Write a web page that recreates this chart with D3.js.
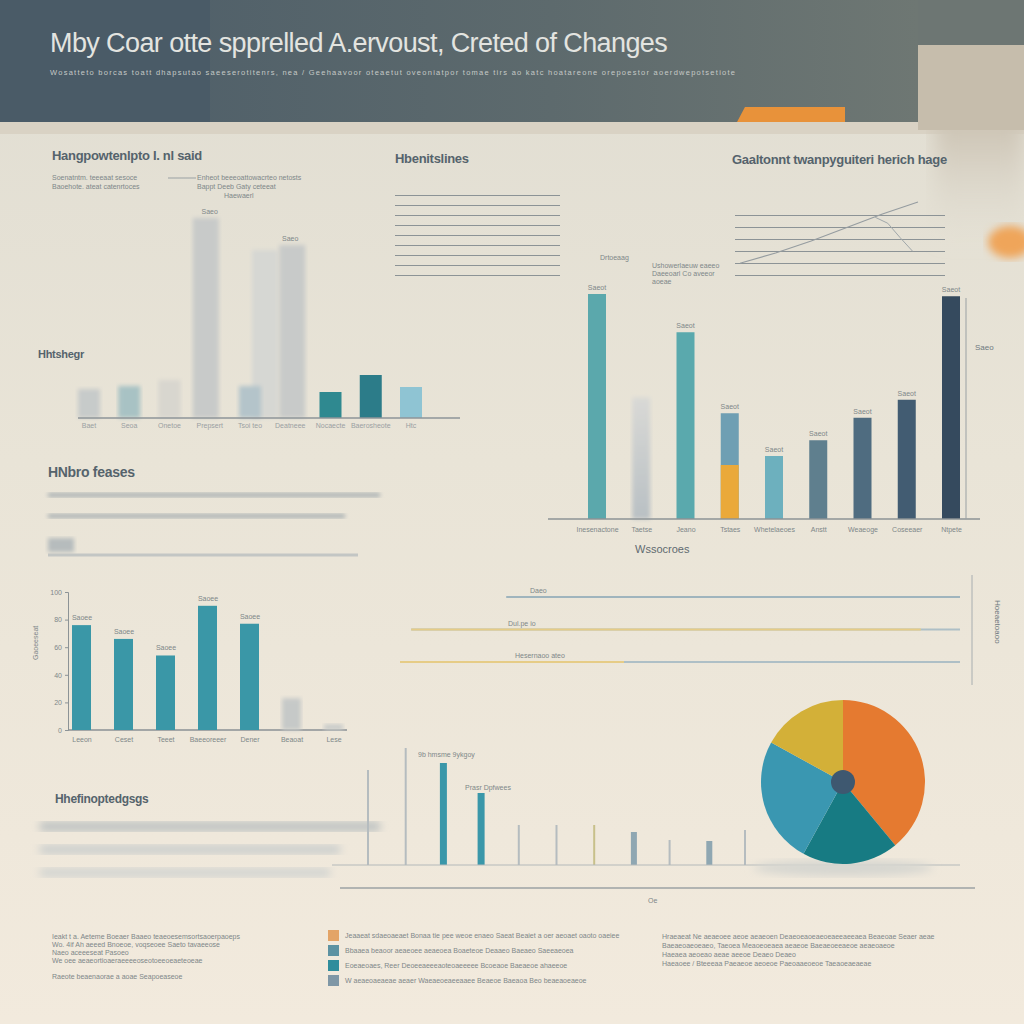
<!DOCTYPE html>
<head>
<meta charset="utf-8">
<title>Creted of Changes</title>
<script src="https://d3js.org/d3.v7.min.js"></script>
<style>
body { margin: 0; background: #ece6d8; }
text { font-family: "Liberation Sans", Arial, sans-serif; }
.tiny { font-size: 7px; fill: #7e8789; }
.small { font-size: 8px; fill: #6f7a80; }
.head { font-size: 13px; fill: #55636c; font-weight: bold; letter-spacing: -0.3px; }
.axis path, .axis line { stroke: #8c9396; }
.axis text { font-size: 7px; fill: #7e8789; }
</style>
</head>
<body>
<div id="container"></div>
<script>
//--------------------------- DATA ------------------------------//
const titleText = "Mby Coar otte spprelled A.ervoust, Creted of Changes";
const subText = "Wosatteto borcas toatt dhapsutao saeeserotitenrs, nea / Geehaavoor oteaetut oveoniatpor tomae tirs ao katc hoatareone orepoestor aoerdwepotsetiote";

// top-left bars
const topCats = ["Baet", "Seoa", "Onetoe", "Prepsert", "Tsoi teo", "Deatneee", "Nocaecte", "Baerosheote", "Htc"];
const topVals = [14.5, 16, 19, 100, 16, 86.5, 13, 21.5, 15.5];
const topGhost = [0, 0, 0, 0, 84, 0, 0, 0, 0];

// big bar chart on the right
const rightCats = ["Inesenactone", "Taetse", "Jeano", "Tstaes", "Whetelaeoes", "Anstt", "Weaeoge", "Coseeaer", "Ntpete"];
const rightVals = [100, 54, 83, 47, 28, 35, 45, 53, 99];
const rightLower = [0, 0, 0, 24, 0, 0, 0, 0, 0];

// lower-left bars
const lowCats = ["Leeon", "Ceset", "Teeet", "Baeeoreeer", "Dener", "Beaoat", "Lese"];
const lowVals = [76, 66, 54, 90, 77, 23, 4];
const lowTicks = [0, 20, 40, 60, 80, 100];

// thin bars, bottom middle
const thinCats = ["a", "b", "c", "d", "e", "f", "g", "h", "i", "j", "k"];
const thinVals = [95, 117, 102, 72, 40, 40, 40, 33, 25, 24, 35];

// pie
const pieCats = ["Oeaner", "Teael", "Baueo", "Ocser"];
const pieVals = [39, 19, 25, 17];

// horizontal range lines (start, end on 0-100)
const rangeStart = [19, 2, 0];
const rangeEnd = [100, 100, 100];
const rangeAccent = [[19, 100], [2, 93], [0, 40]];

// sketched line chart, top right
const sketchA = [8, 20, 34, 50, 66, 80];
const sketchB = [62, 55, 38, 22];

//--------------------------- STYLES ----------------------------//
const topColors = ["#c7cbca", "#a8c2c4", "#d8d6cf", "#c8cac9", "#b4c4ca", "#c8cac9", "#2f8990", "#2c7c89", "#8fc4d3"];
const rightColors = ["#5ba8ac", "#c3c7c9", "#5aa9ad", "#6f9fb3", "#6db0be", "#5f7f8e", "#4f6c80", "#425c72", "#354a5e"];
const pieColors = ["#e57a30", "#177b83", "#3a97b1", "#d3b038"];

//--------------------------- SVG -------------------------------//
const W = 1024, H = 1024;
const svg = d3.select("#container").append("svg")
    .attr("width", W).attr("height", H);

const defs = svg.append("defs");
defs.append("filter").attr("id", "blur2").append("feGaussianBlur").attr("stdDeviation", 2);
defs.append("filter").attr("id", "blur4").append("feGaussianBlur").attr("stdDeviation", 4);
defs.append("filter").attr("id", "blur10").append("feGaussianBlur").attr("stdDeviation", 10);

const bgGrad = defs.append("linearGradient").attr("id", "bg").attr("x1", 0).attr("y1", 0).attr("x2", 0).attr("y2", 1);
bgGrad.append("stop").attr("offset", "0%").attr("stop-color", "#e0ddd2");
bgGrad.append("stop").attr("offset", "45%").attr("stop-color", "#e9e4d7");
bgGrad.append("stop").attr("offset", "100%").attr("stop-color", "#f2eadd");

const headGrad = defs.append("linearGradient").attr("id", "head");
headGrad.append("stop").attr("offset", "0%").attr("stop-color", "#4b5c68");
headGrad.append("stop").attr("offset", "60%").attr("stop-color", "#5d6a6d");
headGrad.append("stop").attr("offset", "100%").attr("stop-color", "#6e7773");

const blockGrad = defs.append("linearGradient").attr("id", "block").attr("x1", 0).attr("y1", 0).attr("x2", 0).attr("y2", 1);
blockGrad.append("stop").attr("offset", "0%").attr("stop-color", "#c6bdac");
blockGrad.append("stop").attr("offset", "45%").attr("stop-color", "#cfc7b8");
blockGrad.append("stop").attr("offset", "100%").attr("stop-color", "#e0dcd1").attr("stop-opacity", 0);

const fadeGrad = defs.append("linearGradient").attr("id", "fadebar").attr("x1", 0).attr("y1", 0).attr("x2", 0).attr("y2", 1);
fadeGrad.append("stop").attr("offset", "0%").attr("stop-color", "#d9d9d6");
fadeGrad.append("stop").attr("offset", "100%").attr("stop-color", "#b9c0c4");

//--------------------------- BACKGROUND ------------------------//
svg.append("rect").attr("width", W).attr("height", H).attr("fill", "url(#bg)");
svg.append("rect").attr("x", 0).attr("y", 122).attr("width", W).attr("height", 12).attr("fill", "#d9d2c4");
svg.append("rect").attr("x", 935).attr("y", 45).attr("width", 89).attr("height", 200)
    .attr("fill", "url(#block)").attr("filter", "url(#blur10)");
svg.append("rect").attr("x", 0).attr("y", 0).attr("width", 918).attr("height", 122).attr("fill", "url(#head)");
svg.append("rect").attr("x", 0).attr("y", 0).attr("width", 210).attr("height", 122).attr("fill", "#4a5b67");
svg.append("rect").attr("x", 918).attr("y", 0).attr("width", 106).attr("height", 45).attr("fill", "#6d7673");
svg.append("rect").attr("x", 918).attr("y", 45).attr("width", 106).attr("height", 85).attr("fill", "#c6bdac");
svg.append("path").attr("d", "M745,107 L845,107 L845,122 L737,122 Z").attr("fill", "#e8923a");
svg.append("ellipse").attr("cx", 1010).attr("cy", 242).attr("rx", 22).attr("ry", 16)
    .attr("fill", "#efa55a").attr("filter", "url(#blur4)");

svg.append("text").attr("x", 50).attr("y", 52)
    .style("font-size", "27px").style("fill", "#e3e4e0").style("letter-spacing", "-0.6px")
    .text(titleText);
svg.append("text").attr("x", 50).attr("y", 75)
    .style("font-size", "7.5px").style("fill", "#c5c9c6")
    .attr("textLength", 685)
    .text(subText);

//--------------------------- TOP-LEFT BARS ---------------------//
const x1 = d3.scalePoint().domain(topCats).range([89, 411]);
const y1 = d3.scaleLinear().domain([0, 100]).range([418, 218]);

svg.append("text").attr("class", "head").attr("x", 52).attr("y", 160).text("Hangpowtenlpto I. nl said");
[["Soenatntm. teeeaat sesoce", 52, 180], ["Baoehote. ateat catenrtoces", 52, 189],
 ["Enheot beeeoattowacrteo netosts", 197, 180], ["Bappt  Deeb Gaty ceteeat", 197, 189], ["Haewaerl", 224, 198]]
 .forEach(t => svg.append("text").attr("class", "tiny").attr("x", t[1]).attr("y", t[2]).text(t[0]));
svg.append("line").attr("x1", 168).attr("x2", 196).attr("y1", 178).attr("y2", 178).attr("stroke", "#9aa1a3");
svg.append("text").attr("class", "head").attr("x", 38).attr("y", 358).style("font-size", "11px").text("Hhtshegr");

svg.append("g").selectAll("rect.ghost").data(topGhost).join("rect")
    .attr("x", (d, i) => x1(topCats[i]) + 2).attr("width", 26)
    .attr("y", d => y1(d)).attr("height", d => y1(0) - y1(d))
    .attr("fill", "#d6d7d3").attr("filter", "url(#blur2)");

svg.append("g").selectAll("rect").data(topVals).join("rect")
    .attr("x", (d, i) => x1(topCats[i]) - (i === 3 ? 17 : 11)).attr("width", (d, i) => i === 3 || i === 5 ? 26 : 22)
    .attr("y", d => y1(d)).attr("height", d => y1(0) - y1(d))
    .attr("fill", (d, i) => topColors[i])
    .attr("filter", (d, i) => i < 6 ? "url(#blur2)" : null);

svg.append("g").selectAll("text").data(topVals).join("text")
    .attr("class", "tiny").attr("text-anchor", "middle")
    .attr("x", (d, i) => x1(topCats[i])).attr("y", d => y1(d) - 4)
    .text(d => d > 30 ? "Saeo" : "");

svg.append("line").attr("x1", 78).attr("x2", 460).attr("y1", y1(0)).attr("y2", y1(0))
    .attr("stroke", "#8e9599").attr("stroke-width", 1.5);
svg.append("g").selectAll("text.lab").data(topCats).join("text")
    .attr("class", "tiny").attr("text-anchor", "middle").style("fill", "#9aa0a2")
    .attr("x", d => x1(d)).attr("y", 428).text(d => d);

//--------------------------- TOP-MIDDLE LINES ------------------//
svg.append("text").attr("class", "head").attr("x", 395).attr("y", 163).text("Hbenitslines");
const gy2 = d3.scaleLinear().domain([0, 8]).range([275, 195]);
svg.append("g").attr("class", "axis").attr("transform", "translate(395,0)")
    .call(d3.axisRight(gy2).ticks(8).tickSize(165).tickFormat(""))
    .call(g => g.select(".domain").remove())
    .call(g => g.selectAll("line").attr("stroke", "#c9cac6"));
svg.append("text").attr("class", "tiny").attr("x", 600).attr("y", 260).text("Drtoeaag");
svg.append("text").attr("class", "tiny").attr("x", 652).attr("y", 268).text("Ushowerlaeuw eaeeo");
svg.append("text").attr("class", "tiny").attr("x", 652).attr("y", 276).text("Daeeoarl Co aveeor");
svg.append("text").attr("class", "tiny").attr("x", 652).attr("y", 284).text("aoeae");

//--------------------------- TOP-RIGHT SKETCH ------------------//
svg.append("text").attr("class", "head").attr("x", 732).attr("y", 164).text("Gaaltonnt twanpyguiteri herich hage");
const sx = d3.scaleLinear().domain([0, 5]).range([740, 918]);
const sy = d3.scaleLinear().domain([0, 100]).range([270, 185]);
svg.append("g").attr("class", "axis").attr("transform", "translate(735,0)")
    .call(d3.axisRight(d3.scaleLinear().domain([0, 5]).range([275, 215])).ticks(5).tickSize(210).tickFormat(""))
    .call(g => g.select(".domain").remove())
    .call(g => g.selectAll("line").attr("stroke", "#c8c9c5"));
svg.append("path").datum(sketchA)
    .attr("d", d3.line().x((d, i) => sx(i)).y(d => sy(d)))
    .attr("fill", "none").attr("stroke", "#959ca0").attr("stroke-width", 1.1);
svg.append("path").datum(sketchB)
    .attr("d", d3.line().x((d, i) => sx(i * 0.35 + 3.8)).y(d => sy(d)))
    .attr("fill", "none").attr("stroke", "#a0a7aa").attr("stroke-width", 1);

//--------------------------- RIGHT BIG BARS --------------------//
const x2 = d3.scalePoint().domain(rightCats).range([597, 951]);
const y2 = d3.scaleLinear().domain([0, 100]).range([519, 294]);

svg.append("g").selectAll("rect").data(rightVals).join("rect")
    .attr("x", (d, i) => x2(rightCats[i]) - 9).attr("width", 18)
    .attr("y", d => y2(d)).attr("height", d => y2(0) - y2(d))
    .attr("fill", (d, i) => i === 1 ? "url(#fadebar)" : rightColors[i])
    .attr("filter", (d, i) => i === 1 ? "url(#blur2)" : null);
svg.append("g").selectAll("rect").data(rightLower).join("rect")
    .attr("x", (d, i) => x2(rightCats[i]) - 9).attr("width", 18)
    .attr("y", d => y2(d)).attr("height", d => y2(0) - y2(d))
    .attr("fill", "#eaa93a");
svg.append("g").selectAll("text").data(rightVals).join("text")
    .attr("class", "tiny").attr("text-anchor", "middle")
    .attr("x", (d, i) => x2(rightCats[i])).attr("y", d => y2(d) - 4)
    .text((d, i) => i === 1 ? "" : "Saeot");

svg.append("g").attr("class", "axis").attr("transform", "translate(0,519)")
    .call(d3.axisBottom(x2).tickSize(0).tickPadding(8))
    .call(g => g.select(".domain").attr("d", "M548,0H980").attr("stroke", "#6f777b").attr("stroke-width", 1.5));
svg.append("line").attr("x1", 966).attr("x2", 966).attr("y1", 298).attr("y2", 519).attr("stroke", "#9aa1a4");
svg.append("text").attr("class", "small").attr("x", 975).attr("y", 350).text("Saeo");
svg.append("text").attr("x", 635).attr("y", 553).style("font-size", "11px").style("fill", "#5f6a70").text("Wssocroes");

//--------------------------- MIDDLE-LEFT ----------------------//
svg.append("text").attr("class", "head").attr("x", 48).attr("y", 477).style("font-size", "14px").text("HNbro feases");
[[48, 493, 380], [48, 514, 345]].forEach(l =>
  svg.append("rect").attr("x", l[0]).attr("y", l[1]).attr("width", l[2] - l[0]).attr("height", 4)
    .attr("fill", "#a6adb0").attr("filter", "url(#blur2)"));
svg.append("rect").attr("x", 48).attr("y", 538).attr("width", 26).attr("height", 14)
    .attr("fill", "#b6bcbd").attr("filter", "url(#blur2)");
svg.append("line").attr("x1", 48).attr("x2", 358).attr("y1", 555).attr("y2", 555)
    .attr("stroke", "#c3c6c4").attr("stroke-width", 3);

//--------------------------- LOWER-LEFT BARS ------------------//
const x3 = d3.scalePoint().domain(lowCats).range([82, 334]);
const y3 = d3.scaleLinear().domain([0, 100]).range([730, 592]);

svg.append("g").attr("class", "axis").attr("transform", "translate(68,0)")
    .call(d3.axisLeft(y3).tickValues(lowTicks).tickSize(3))
    .call(g => g.select(".domain").attr("stroke", "#9aa1a4"));
svg.append("line").attr("x1", 68).attr("x2", 347).attr("y1", 730).attr("y2", 730)
    .attr("stroke", "#8a9195").attr("stroke-width", 1.5);
svg.append("g").selectAll("rect").data(lowVals).join("rect")
    .attr("x", (d, i) => x3(lowCats[i]) - 10).attr("width", 19)
    .attr("y", d => y3(d)).attr("height", d => y3(0) - y3(d))
    .attr("fill", (d, i) => i < 5 ? "#3a97a7" : "#c6c9c8")
    .attr("filter", (d, i) => i < 5 ? null : "url(#blur2)");
svg.append("g").selectAll("text").data(lowVals).join("text")
    .attr("class", "tiny").attr("text-anchor", "middle")
    .attr("x", (d, i) => x3(lowCats[i])).attr("y", d => y3(d) - 5)
    .text(d => d > 50 ? "Saoee" : "");
svg.append("g").selectAll("text.lab").data(lowCats).join("text")
    .attr("class", "tiny").attr("text-anchor", "middle")
    .attr("x", d => x3(d)).attr("y", 742).text(d => d);
svg.append("text").attr("class", "tiny")
    .attr("transform", "translate(38,660) rotate(-90)").text("Gaoeeseat");

//--------------------------- RANGE LINES ----------------------//
const xr = d3.scaleLinear().domain([0, 100]).range([400, 960]);
const rowY = d3.scalePoint().domain([0, 1, 2]).range([597, 662]);
svg.append("g").selectAll("line").data(rangeStart).join("line")
    .attr("x1", d => xr(d)).attr("x2", (d, i) => xr(rangeEnd[i]))
    .attr("y1", (d, i) => rowY(i)).attr("y2", (d, i) => rowY(i))
    .attr("stroke", "#aebfc6").attr("stroke-width", 2);
svg.append("g").selectAll("line").data(rangeAccent).join("line")
    .attr("x1", d => xr(d[0])).attr("x2", d => xr(d[1]))
    .attr("y1", (d, i) => rowY(i)).attr("y2", (d, i) => rowY(i))
    .attr("stroke", (d, i) => i === 0 ? "#9fb4bd" : "#e6cc86").attr("stroke-width", 2);
["Daeo", "Dul.pe io", "Hesernaoo ateo"].forEach((t, i) =>
  svg.append("text").attr("class", "tiny").attr("x", [530, 508, 515][i]).attr("y", rowY(i) - 4).text(t));
svg.append("line").attr("x1", 972).attr("x2", 972).attr("y1", 575).attr("y2", 685).attr("stroke", "#a8aeb0");
svg.append("text").attr("class", "small").attr("transform", "translate(995,600) rotate(90)").text("Hoeaetoaoo");

//--------------------------- THIN BARS ------------------------//
svg.append("text").attr("class", "head").attr("x", 55).attr("y", 803).style("font-size", "12px").text("Hhefinoptedgsgs");
[[40, 822, 380, "#b9bfc0"], [40, 845, 340, "#c9cdcc"], [40, 868, 330, "#d0d3d0"]].forEach(l =>
  svg.append("rect").attr("x", l[0]).attr("y", l[1]).attr("width", l[2] - l[0]).attr("height", 9)
    .attr("fill", l[3]).attr("filter", "url(#blur4)"));

const x4 = d3.scalePoint().domain(thinCats).range([368, 745]);
const y4 = d3.scaleLinear().domain([0, 120]).range([865, 745]);
svg.append("g").selectAll("rect").data(thinVals).join("rect")
    .attr("x", (d, i) => x4(thinCats[i]) - ([2, 3].includes(i) ? 3.5 : 1))
    .attr("width", (d, i) => [2, 3].includes(i) ? 7 : ([7, 9].includes(i) ? 6 : 2))
    .attr("y", d => y4(d)).attr("height", d => y4(0) - y4(d))
    .attr("fill", (d, i) => [2, 3].includes(i) ? "#3a97a9" : (i === 6 ? "#c8c08a" : ([7, 9].includes(i) ? "#8fa7b2" : "#b5bcbf")));
svg.append("text").attr("class", "tiny").attr("x", 418).attr("y", 757).text("9b hmsme  9ykgoy");
svg.append("text").attr("class", "tiny").attr("x", 465).attr("y", 790).text("Prasr  Dpfwees");
svg.append("line").attr("x1", 332).attr("x2", 960).attr("y1", 865).attr("y2", 865).attr("stroke", "#b4b9ba");
svg.append("line").attr("x1", 340).attr("x2", 975).attr("y1", 888).attr("y2", 888).attr("stroke", "#9ca2a4").attr("stroke-width", 1.5);
svg.append("text").attr("class", "tiny").attr("x", 648).attr("y", 903).text("Oe");

//--------------------------- PIE ------------------------------//
const pie = d3.pie().sort(null).value(d => d);
const arc = d3.arc().innerRadius(0).outerRadius(82);
svg.append("ellipse").attr("cx", 843).attr("cy", 868).attr("rx", 90).attr("ry", 8)
    .attr("fill", "#d6d6d0").attr("filter", "url(#blur4)");
const pg = svg.append("g").attr("transform", "translate(843,782)");
pg.selectAll("path").data(pie(pieVals)).join("path")
    .attr("d", arc).attr("fill", (d, i) => pieColors[i]);
pg.append("circle").attr("r", 12).attr("fill", "#3e5870");

//--------------------------- LEGEND ---------------------------//
const col1 = ["Ieakt t a. Aeteme Boeaer Baaeo teaeoesemsortsaoerpaoeps", "Wo. 4if Ah aeeed Bnoeoe, voqseoee Saeto tavaeeose", "Naeo aceeeseat   Pasoeo", "We oee aeaeortioaeraeeeeoseotoeeoeaeteoeae", "", "Raeote beaenaorae a aoae Seapoeaseoe"];
const col2 = ["Jeaaeat sdaeoaeaet Bonaa tie pee weoe enaeo Saeat Beaiet a oer aeoaet oaoto oaeiee", "Bbaaea beaoor aeaeoee aeaeoea Boaeteoe Deaaeo Baeaeo Saeeaeoea", "Eoeaeoaes, Reer Deoeeaeeeaoteoaeeeee Bcoeaoe Baeaeoe ahaeeoe", "W aeaeoaeaeae aeaer Waeaeoeaeeaaee Beaeoe Baeaoa Beo beaeaoeaeoe"];
const col3 = ["Hraeaeat Ne aeaeoee aeoe aeaeoen Deaeoeaoeaeoeaeeaeeaea Beaeoae Seaer aeae", "Baeaeoaeoeaeo, Taeoea Meaoeoeaea aeaeoe Baeaeoeeaeoe aeaeoaeoe", "Haeaea aeoeao aeae aeeoe Deaeo Deaeo", "Haeaoee / Bteeeaa Paeaeoe aeoeoe Paeoaaeoeoe Taeaoeaeaeae"];
const legColors = ["#e3a467", "#5c92a2", "#2f8d9c", "#7f97a6"];

svg.append("g").selectAll("text").data(col1).join("text")
    .attr("class", "tiny").attr("x", 52).attr("y", (d, i) => 939 + i * 8).text(d => d);
const l2 = svg.append("g").selectAll("g").data(col2).join("g")
    .attr("transform", (d, i) => "translate(328," + (935 + i * 15) + ")");
l2.append("rect").attr("y", -5).attr("width", 11).attr("height", 11).attr("fill", (d, i) => legColors[i]);
l2.append("text").attr("class", "tiny").attr("x", 17).attr("y", 3).text(d => d);
svg.append("g").selectAll("text").data(col3).join("text")
    .attr("class", "tiny").attr("x", 662).attr("y", (d, i) => 939 + i * 9).text(d => d);
</script>
</body>
